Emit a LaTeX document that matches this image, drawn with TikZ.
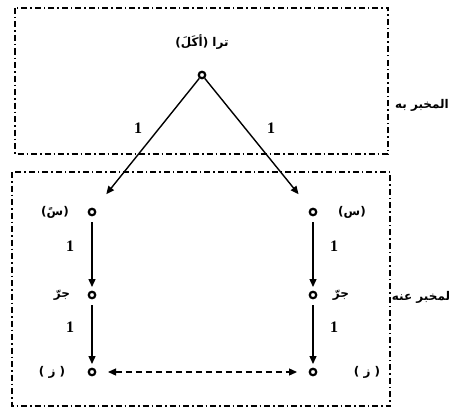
\documentclass[tikz,border=0pt]{standalone}
\usepackage{fontspec}
\newfontfamily\arabicfont[Script=Arabic]{DejaVu Sans}
\newfontfamily\numfont{Liberation Serif}
\TeXXeTstate=1
\usetikzlibrary{arrows.meta,calc}
\begin{document}
\begin{tikzpicture}[x=1pt,y=-1pt,
  pt/.style={circle,draw,line width=2.2pt,inner sep=0pt,minimum size=6.5pt},
  arlabel/.style={font=\arabicfont\bfseries\fontsize{12}{14}\selectfont,inner sep=0pt},
  num/.style={font=\numfont\bfseries\fontsize{16}{18}\selectfont,inner sep=0pt},
  arr/.style={-{Triangle[length=8pt,width=7pt]},line width=1.4pt},
  frame/.style={line width=1.4pt,dash pattern=on 6pt off 3pt on 1.5pt off 3pt}]
\useasboundingbox (0,0) rectangle (473,412);
\draw[frame] (15,8) rectangle (388,154);
\draw[frame] (12,172) rectangle (390,406);
\node[pt] (top) at (202,75) {};
\node[pt] (l1) at (92,212) {};
\node[pt] (r1) at (313,212) {};
\node[pt] (l2) at (92,295) {};
\node[pt] (r2) at (313,295) {};
\node[pt] (l3) at (92,372) {};
\node[pt] (r3) at (313,372) {};
\node[arlabel] (ttop) at (202,42) {\beginR ترا (أكَلَ)\endR};
\node[arlabel] (tmb) at (422,105) {\beginR المخبر به\endR};
\node[arlabel] (tma) at (421,297) {\beginR لمخبر عنه\endR};
\node[arlabel] (tl1) at (55,212) {\beginR (سً)\endR};
\node[arlabel] (tr1) at (352,212) {\beginR (س)\endR};
\node[arlabel] (tl2) at (62,295) {\beginR جرّ\endR};
\node[arlabel] (tr2) at (341,295) {\beginR جرّ\endR};
\node[arlabel] (tl3) at (52,372) {\beginR ( ز )\endR};
\node[arlabel] (tr3) at (367,372) {\beginR ( ز )\endR};
\node[num] (n1) at (138,128) {1};
\node[num] (n2) at (271,128) {1};
\node[num] (n3) at (70,246) {1};
\node[num] (n4) at (70,327) {1};
\node[num] (n5) at (334,246) {1};
\node[num] (n6) at (334,327) {1};
\draw[arr] (top) -- ($(top)!0.87!(l1)$);
\draw[arr] (top) -- ($(top)!0.87!(r1)$);
\draw[arr] ($(l1)+(0,10)$) -- ($(l2)+(0,-8)$);
\draw[arr] ($(r1)+(0,10)$) -- ($(r2)+(0,-8)$);
\draw[arr] ($(l2)+(0,10)$) -- ($(l3)+(0,-8)$);
\draw[arr] ($(r2)+(0,10)$) -- ($(r3)+(0,-8)$);
\draw[{Triangle[length=8pt,width=7pt]}-{Triangle[length=8pt,width=7pt]},line width=1.3pt,dash pattern=on 6pt off 4pt] ($(l3)+(16,0)$) -- ($(r3)+(-16,0)$);
\end{tikzpicture}
\end{document}
